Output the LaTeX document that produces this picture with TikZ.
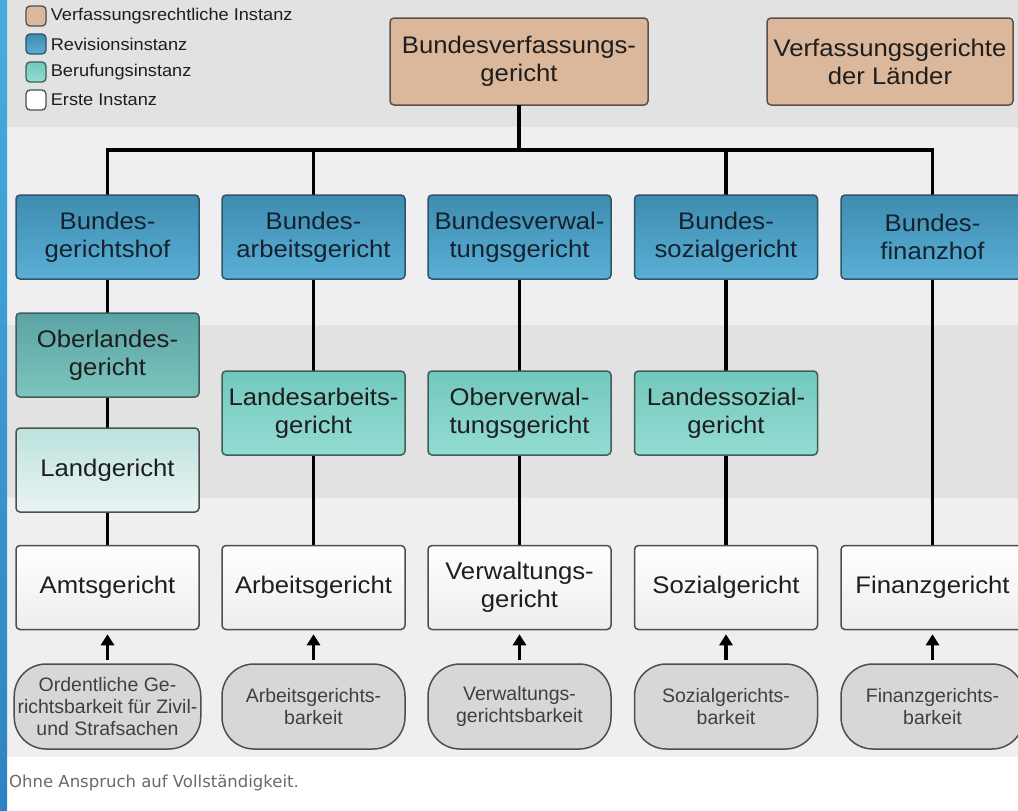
\documentclass[tikz,border=0pt]{standalone}
\usepackage{fontspec}
\setmainfont{Liberation Sans}
\newfontfamily\courtfont{Liberation Sans}[FakeStretch=1.07]
\newfontfamily\notefont{DejaVu Sans}
\usepackage{tikz}
\usetikzlibrary{positioning,arrows.meta}

\definecolor{verf}{HTML}{DBB89B}
\definecolor{verfline}{HTML}{5E5048}
\definecolor{revtop}{HTML}{3E8CB0}
\definecolor{revbot}{HTML}{5AAFD5}
\definecolor{revline}{HTML}{2E5468}
\definecolor{olgtop}{HTML}{5CA3A6}
\definecolor{olgbot}{HTML}{7CC5BD}
\definecolor{lgtop}{HTML}{BCE2DD}
\definecolor{lgbot}{HTML}{EAF4F3}
\definecolor{bertop}{HTML}{72C8BD}
\definecolor{berbot}{HTML}{94DCD3}
\definecolor{berline}{HTML}{3D5E5A}
\definecolor{boxline}{HTML}{4E4E4E}
\definecolor{ovalfill}{HTML}{D7D7D7}
\definecolor{bandA}{HTML}{E2E2E2}
\definecolor{bandB}{HTML}{EFEFF2}
\definecolor{stripetop}{HTML}{45AEDC}
\definecolor{stripebot}{HTML}{2F82C2}
\definecolor{textdark}{HTML}{1E1E1E}
\definecolor{textnavy}{HTML}{15222E}
\definecolor{notegrey}{HTML}{6A6A6A}

\begin{document}
\begin{tikzpicture}[x=1pt,y=-1pt,
	court/.style={draw=boxline,line width=1.5pt,rounded corners=4pt,
		minimum width=183pt,minimum height=84pt,inner sep=2pt,align=center,
		font=\courtfont\fontsize{24}{28}\selectfont,text=textdark},
	verfbox/.style={court,fill=verf,draw=verfline,minimum height=87pt},
	revbox/.style={court,top color=revtop,bottom color=revbot,draw=revline,text=textnavy},
	olgbox/.style={court,top color=olgtop,bottom color=olgbot,draw=berline},
	lgbox/.style={court,top color=lgtop,bottom color=lgbot},
	berbox/.style={court,top color=bertop,bottom color=berbot,draw=berline},
	firstbox/.style={court,top color=white,bottom color=black!7},
	branch/.style={draw=boxline,line width=1.5pt,rounded corners=32pt,fill=ovalfill,
		minimum width=183pt,minimum height=85pt,align=center,
		font=\fontsize{19.5}{22}\selectfont,text=black!75},
	legbox/.style={draw=boxline,line width=1.3pt,rounded corners=4pt,
		minimum size=20pt,inner sep=0pt},
	legtext/.style={font=\courtfont\fontsize{17}{18}\selectfont,text=textdark,inner sep=1pt},
	link/.style={line width=3.8pt,black},
	feed/.style={line width=3.8pt,black,-{Triangle[width=13pt,length=11pt]},
		shorten <=3pt,shorten >=4pt}]

	\useasboundingbox (0,0) rectangle (1018,811);
	\clip (0,0) rectangle (1018,811);

	% background bands
	\fill[white] (0,0) rectangle (1018,811);
	\fill[bandA] (7,0) rectangle (1018,127);
	\fill[bandB] (7,127) rectangle (1018,325);
	\fill[bandA] (7,325) rectangle (1018,498);
	\fill[bandB] (7,498) rectangle (1018,757);
	\shade[top color=stripetop,bottom color=stripebot] (0,0) rectangle (7,811);

	% legend
	\node[legbox,fill=verf] (lverf) at (36,16) {};
	\node[legbox,top color=revtop,bottom color=revbot,draw=revline] (lrev) at (36,44) {};
	\node[legbox,top color=bertop,bottom color=berbot,draw=berline] (lber) at (36,72) {};
	\node[legbox,fill=white] (lfirst) at (36,100) {};
	\node[legtext,right=3pt of lverf] {Verfassungsrechtliche Instanz};
	\node[legtext,right=3pt of lrev] {Revisionsinstanz};
	\node[legtext,right=3pt of lber] {Berufungsinstanz};
	\node[legtext,right=3pt of lfirst] {Erste Instanz};

	% constitutional courts
	\node[verfbox,minimum width=258pt] (bverfg) at (519,61.5) {Bundesverfassungs-\\gericht};
	\node[verfbox,minimum width=246pt] (lverfg) at (890,61.5) {Verfassungsgerichte\\der L\"ander};

	\coordinate (bar) at (519,150);

	% connectors (behind the boxes)
	\draw[link] (519,105) -- (bar);
	\draw[link] (107.5,195) -- (107.5,150) -- (932.5,150) -- (932.5,195);
	\draw[link] (313.5,150) -- (313.5,195);
	\draw[link] (726,150) -- (726,195);
	\draw[link] (107.5,279) -- (107.5,545);
	\draw[link] (313.5,279) -- (313.5,545);
	\draw[link] (519.5,279) -- (519.5,545);
	\draw[link] (726,279) -- (726,545);
	\draw[link] (932.5,279) -- (932.5,545);

	% revision
	\node[revbox] (bgh) at (107.5,237) {Bundes-\\gerichtshof};
	\node[revbox] (bag) at (313.5,237) {Bundes-\\arbeitsgericht};
	\node[revbox] (bverwg) at (519.5,237) {Bundesverwal-\\tungsgericht};
	\node[revbox] (bsg) at (726,237) {Bundes-\\sozialgericht};
	\node[revbox] (bfh) at (932.5,237) {Bundes-\\finanzhof};

	% appeal
	\node[olgbox] (olg) at (107.5,355) {Oberlandes-\\gericht};
	\node[lgbox] (lg) at (107.5,470) {Landgericht};
	\node[berbox] (lag) at (313.5,413) {Landesarbeits-\\gericht};
	\node[berbox] (ovg) at (519.5,413) {Oberverwal-\\tungsgericht};
	\node[berbox] (lsg) at (726,413) {Landessozial-\\gericht};

	% first instance
	\node[firstbox] (ag) at (107.5,587.5) {Amtsgericht};
	\node[firstbox] (arbg) at (313.5,587.5) {Arbeitsgericht};
	\node[firstbox] (vg) at (519.5,587.5) {Verwaltungs-\\gericht};
	\node[firstbox] (sg) at (726,587.5) {Sozialgericht};
	\node[firstbox] (fg) at (932.5,587.5) {Finanzgericht};

	% jurisdictions
	\node[branch] (ordb) at (107.5,706.5) {Ordentliche Ge-\\richtsbarkeit f\"ur Zivil-\\und Strafsachen};
	\node[branch] (arbb) at (313.5,706.5) {Arbeitsgerichts-\\barkeit};
	\node[branch] (verwb) at (519.5,706.5) {Verwaltungs-\\gerichtsbarkeit};
	\node[branch] (sozb) at (726,706.5) {Sozialgerichts-\\barkeit};
	\node[branch] (finb) at (932.5,706.5) {Finanzgerichts-\\barkeit};

	\draw[feed] (ordb) -- (ag);
	\draw[feed] (arbb) -- (arbg);
	\draw[feed] (verwb) -- (vg);
	\draw[feed] (sozb) -- (sg);
	\draw[feed] (finb) -- (fg);

	\node[anchor=west,inner sep=0pt,font=\notefont\fontsize{16.5}{19}\selectfont,text=notegrey] (note) at (9,783) {Ohne Anspruch auf Vollst\"andigkeit.};
\end{tikzpicture}
\end{document}
